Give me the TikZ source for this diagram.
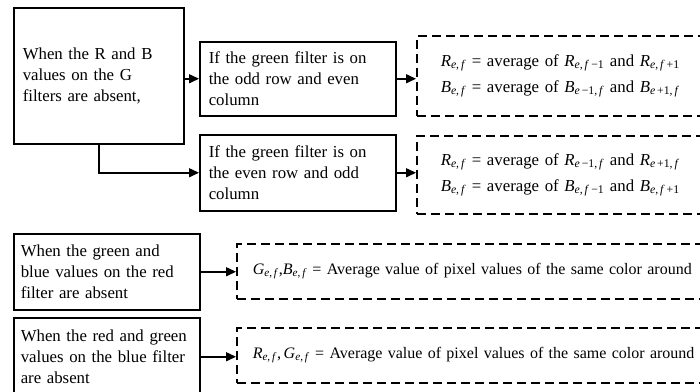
\documentclass[tikz,border=0pt]{standalone}
\usepackage{fontspec}
\setmainfont{Liberation Serif}
\usetikzlibrary{arrows.meta}
\newcommand{\boxfont}{\fontsize{16.8}{21}\selectfont}
\newcommand{\rowfont}{\fontsize{16}{21}\selectfont}
\newcommand{\pix}[2]{\textit{#1}\textsubscript{#2}}
\newcommand{\ef}{\textit{e},\,\textit{f}}

\begin{document}
\begin{tikzpicture}[x=1pt, y=-1pt,
    box/.style={rectangle, draw, line width=1.5pt, anchor=north west, inner xsep=9pt, inner ysep=0pt, align=left, font=\boxfont},
    dashbox/.style={rectangle, draw, line width=1.5pt, dash pattern=on 9pt off 5pt, anchor=north west, inner ysep=0pt, align=left, font=\boxfont},
    arrow/.style={-{Triangle[length=10pt, width=9pt]}, line width=1.5pt}
]
    \useasboundingbox (0,0) rectangle (700,391);
    \clip (0,0) rectangle (700,391);

    \node[box, text width=152pt, minimum height=136pt] (rb) at (13,7) {When the R and B\\ values on the G\\ filters are absent,};
    \node[box, text width=178pt, minimum height=74pt] (oddrow) at (199,41) {If the green filter is on\\ the odd row and even\\ column};
    \node[box, text width=178pt, minimum height=76pt] (evenrow) at (199,134) {If the green filter is on\\ the even row and odd\\ column};

    \node[dashbox, inner xsep=24pt, text width=330pt, minimum height=80pt] (oddavg) at (416,35)
        {\pix{R}{\ef} = average of \pix{R}{\ef\,−1} and \pix{R}{\ef\,+1}\\[5pt]
         \pix{B}{\ef} = average of \pix{B}{\textit{e}\,−1,\,\textit{f}} and \pix{B}{\textit{e}\,+1,\,\textit{f}}};
    \node[dashbox, inner xsep=24pt, text width=330pt, minimum height=78pt] (evenavg) at (416,135)
        {\pix{R}{\ef} = average of \pix{R}{\textit{e}\,−1,\,\textit{f}} and \pix{R}{\textit{e}\,+1,\,\textit{f}}\\[5pt]
         \pix{B}{\ef} = average of \pix{B}{\ef\,−1} and \pix{B}{\ef\,+1}};

    \node[box, inner xsep=7pt, text width=172pt, minimum height=76pt] (red) at (13,233) {When the green and\\ blue values on the red\\ filter are absent};
    \node[box, inner xsep=7pt, text width=172pt, minimum height=78pt] (blue) at (13,317) {When the red and green\\ values on the blue filter\\ are absent};

    \node[dashbox, inner xsep=16pt, text width=580pt, minimum height=55pt, font=\rowfont] (redavg) at (236,243)
        {\pix{G}{\ef},\pix{B}{\ef} = Average value of pixel values of the same color around};
    \node[dashbox, inner xsep=16pt, text width=580pt, minimum height=55pt, font=\rowfont] (blueavg) at (236,327)
        {\pix{R}{\ef},\,\pix{G}{\ef} = Average value of pixel values of the same color around};

    \draw[arrow] (oddrow.west -| rb.east) -- (oddrow.west);
    \draw[arrow] (rb.south) |- (evenrow.west);
    \draw[arrow] (oddrow.east) -- (oddrow.east -| oddavg.west);
    \draw[arrow] (evenrow.east) -- (evenrow.east -| evenavg.west);
    \draw[arrow] (red.east) -- (red.east -| redavg.west);
    \draw[arrow] (blue.east) -- (blue.east -| blueavg.west);
\end{tikzpicture}
\end{document}
